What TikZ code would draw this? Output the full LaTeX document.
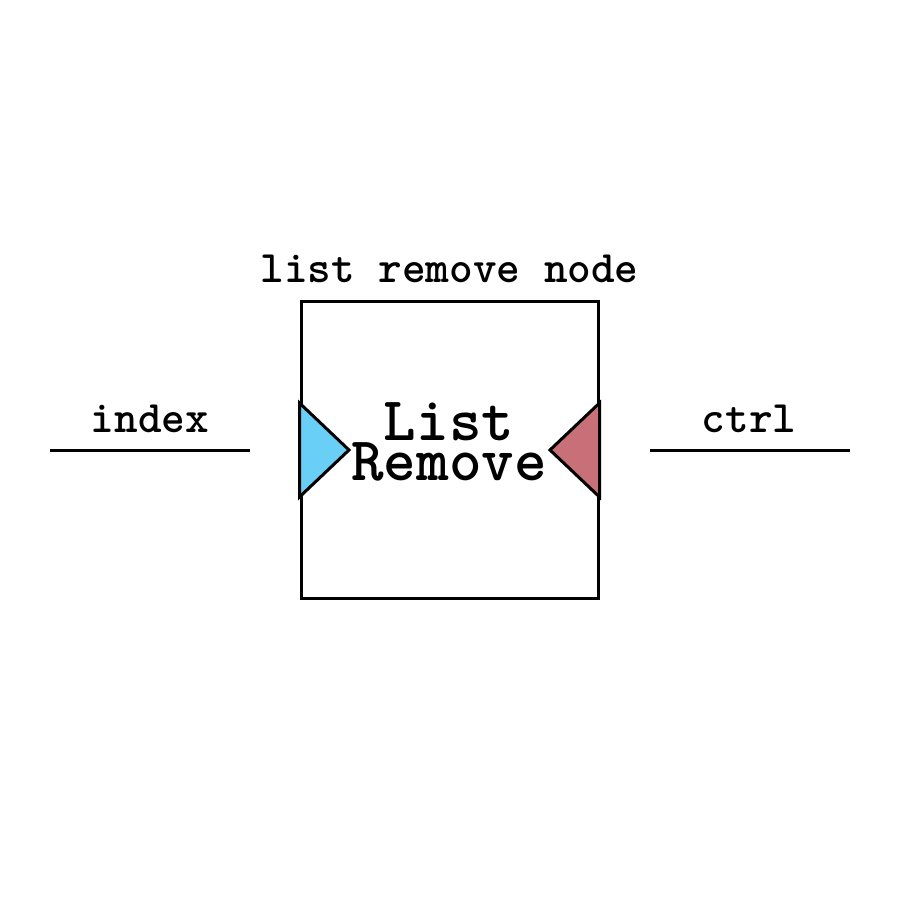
\documentclass[tikz,border=0pt]{standalone}
\usetikzlibrary{positioning, calc}
\definecolor{portblue}{HTML}{6ACFF6}
\definecolor{portred}{HTML}{C87078}
\tikzset{
  blockbox/.style={
    draw=black, line width=1.5pt, rectangle, minimum width=148.5pt,
    minimum height=148.5pt, inner sep=0pt
  },
  blocktext/.style={font=\ttfamily\bfseries\fontsize{31}{20}\selectfont, align=center, inner sep=0pt},
  wirelabel/.style={font=\ttfamily\bfseries\fontsize{22.5}{24}\selectfont, anchor=base},
  wire/.style={line width=1.5pt, black},
  inport/.style={draw=black, line width=1.5pt, fill=portblue, line join=miter},
  outport/.style={draw=black, line width=1.5pt, fill=portred, line join=miter}
}

\begin{document}
\begin{tikzpicture}[x=0.5pt, y=-0.5pt]
\useasboundingbox (0,0) rectangle (900,900);

\node[blockbox] (block) at (449.5,449.5) {};
\node[wirelabel] (title) at (449.5,282) {list remove node};

% ports on the block
\draw[inport]  (block.west |- 0,403) -- (349,450) -- (block.west |- 0,497) -- cycle;
\draw[outport] (block.east |- 0,403) -- (550,450) -- (block.east |- 0,497) -- cycle;

\node[blocktext, anchor=base] (name) at (449,480) {List\\Remove};

% input and output wires
\coordinate (inA) at (50,450);
\coordinate (inB) at (250,450);
\coordinate (outA) at (650,450);
\coordinate (outB) at (850,450);
\draw[wire] (inA) -- (inB);
\draw[wire] (outA) -- (outB);
\node[wirelabel] (inlabel) at (150,432) {index};
\node[wirelabel] (outlabel) at (749,432) {ctrl};
\end{tikzpicture}
\end{document}
